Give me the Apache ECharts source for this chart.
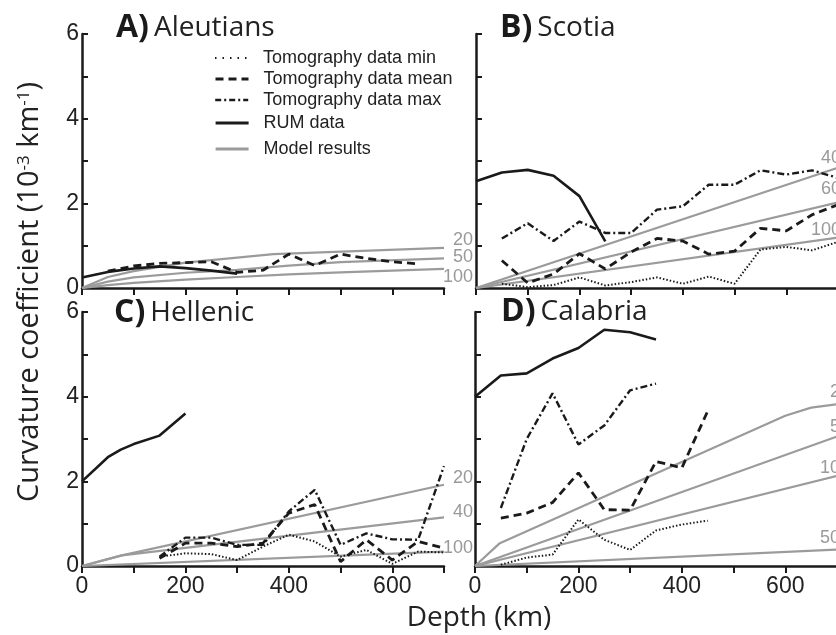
<!DOCTYPE html>
<html>
<head>
<meta charset="utf-8">
<script src="https://cdn.jsdelivr.net/npm/echarts@6/dist/echarts.min.js"></script>
<style>
html, body { margin: 0; padding: 0; background: #fff; }
#chart { width: 836px; height: 635px; }
</style>
</head>
<body>
<div id="chart"></div>
<script>
// depth (km) vs curvature coefficient (10^-3 km^-1)

// A) Aleutians
var aleutRum = [[0, 0.25], [50, 0.38], [100, 0.46], [150, 0.51], [200, 0.47], [250, 0.41], [300, 0.34]];
var aleutMean = [[50, 0.4], [100, 0.52], [150, 0.58], [200, 0.6], [250, 0.62], [300, 0.37], [350, 0.42], [400, 0.8], [450, 0.53], [500, 0.8], [550, 0.7], [600, 0.62], [650, 0.57]];
var aleutModel20 = [[0, 0], [50, 0.26], [100, 0.4], [200, 0.6], [370, 0.8], [700, 0.95]];
var aleutModel50 = [[0, 0], [50, 0.15], [100, 0.25], [200, 0.36], [300, 0.43], [400, 0.53], [500, 0.61], [700, 0.7]];
var aleutModel100 = [[0, 0], [50, 0.07], [100, 0.12], [200, 0.2], [300, 0.26], [400, 0.32], [500, 0.37], [700, 0.45]];

// B) Scotia
var scotiaRum = [[0, 2.52], [50, 2.73], [100, 2.79], [150, 2.65], [200, 2.17], [250, 1.1]];
var scotiaMin = [[50, 0.1], [100, 0.02], [150, 0.07], [200, 0.25], [250, 0.06], [300, 0.14], [350, 0.25], [400, 0.1], [450, 0.27], [500, 0.1], [550, 0.91], [600, 0.97], [650, 0.89], [700, 1.09]];
var scotiaMean = [[50, 0.65], [100, 0.12], [150, 0.33], [200, 0.81], [250, 0.45], [300, 0.85], [350, 1.17], [400, 1.11], [450, 0.8], [500, 0.87], [550, 1.41], [600, 1.35], [650, 1.73], [700, 1.97]];
var scotiaMax = [[50, 1.17], [100, 1.53], [150, 1.11], [200, 1.57], [250, 1.3], [300, 1.3], [350, 1.85], [400, 1.93], [450, 2.44], [500, 2.44], [550, 2.78], [600, 2.68], [650, 2.78], [700, 2.6]];
var scotiaModel40 = [[0, 0], [700, 2.84]];
var scotiaModel60 = [[0, 0], [700, 2.02]];
var scotiaModel100 = [[0, 0], [700, 1.19]];

// C) Hellenic
var hellRum = [[0, 2.0], [50, 2.57], [75, 2.75], [100, 2.88], [150, 3.08], [200, 3.6]];
var hellMin = [[150, 0.22], [200, 0.3], [250, 0.28], [300, 0.14], [350, 0.46], [400, 0.74], [450, 0.58], [500, 0.22], [550, 0.38], [600, 0.05], [650, 0.34], [700, 0.32]];
var hellMean = [[150, 0.18], [200, 0.54], [250, 0.54], [300, 0.46], [350, 0.54], [400, 1.25], [450, 1.45], [500, 0.1], [550, 0.62], [600, 0.14], [650, 0.58], [700, 0.42]];
var hellMax = [[150, 0.22], [200, 0.67], [250, 0.67], [300, 0.5], [350, 0.5], [400, 1.29], [450, 1.8], [500, 0.5], [550, 0.77], [600, 0.63], [650, 0.62], [700, 2.36]];
var hellModel20 = [[0, 0], [77, 0.25], [700, 1.92]];
var hellModel40 = [[0, 0], [77, 0.25], [700, 1.15]];
var hellModel100 = [[0, 0], [700, 0.34]];

// D) Calabria
var calRum = [[0, 4.0], [50, 4.5], [100, 4.55], [150, 4.9], [200, 5.15], [250, 5.58], [300, 5.52], [350, 5.35]];
var calMin = [[50, 0.03], [100, 0.2], [150, 0.27], [200, 1.1], [250, 0.62], [300, 0.38], [350, 0.84], [400, 0.98], [450, 1.07]];
var calMean = [[50, 1.13], [100, 1.25], [150, 1.5], [200, 2.2], [250, 1.33], [300, 1.32], [350, 2.47], [400, 2.32], [450, 3.66]];
var calMax = [[50, 1.37], [100, 3.0], [150, 4.08], [200, 2.87], [250, 3.32], [300, 4.15], [350, 4.31]];
var calModel20 = [[0, 0], [48, 0.54], [600, 3.55], [650, 3.74], [700, 3.82]];
var calModel50 = [[0, 0], [700, 3.06]];
var calModel100 = [[0, 0], [700, 2.13]];
var calModel500 = [[0, 0], [700, 0.39]];

var xTicks = { min: 0, max: 700, step: 100, labelStep: 200 };
var yTicks = { min: 0, max: 6, step: 1, labelStep: 2 };

var legendNames = ['Tomography data min', 'Tomography data mean', 'Tomography data max', 'RUM data', 'Model results'];

var panels = [
    { letter: 'A)', name: 'Aleutians', left: 82, top: 34, xLab: false, yLab: true,
      rum: aleutRum, min: null, mean: aleutMean, max: null,
      model: [aleutModel20, aleutModel50, aleutModel100], modelLabels: ['20', '50', '100'],
      labelOff: [[29, -8], [29, -1], [29, 8]], titleX: 116, titleY: 12 },
    { letter: 'B)', name: 'Scotia', left: 476, top: 34, xLab: false, yLab: false,
      rum: scotiaRum, min: scotiaMin, mean: scotiaMean, max: scotiaMax,
      model: [scotiaModel40, scotiaModel60, scotiaModel100], modelLabels: ['40', '60', '100'],
      labelOff: [[3, -10], [3, -13], [3, -8]], titleX: 500, titleY: 12 },
    { letter: 'C)', name: 'Hellenic', left: 82, top: 312, xLab: true, yLab: true,
      rum: hellRum, min: hellMin, mean: hellMean, max: hellMax,
      model: [hellModel20, hellModel40, hellModel100], modelLabels: ['20', '40', '100'],
      labelOff: [[29, -7], [29, -5], [29, -4]], titleX: 114, titleY: 297 },
    { letter: 'D)', name: 'Calabria', left: 475, top: 312, xLab: true, yLab: false,
      rum: calRum, min: calMin, mean: calMean, max: calMax,
      model: [calModel20, calModel50, calModel100, calModel500], modelLabels: ['20', '50', '100', '500'],
      labelOff: [[13, -12], [13, -9], [13, -8], [13, -11]], titleX: 501, titleY: 296 }
];

var INK = '#1a1a1a';
var GRAY = '#9b9b9b';
var numFont = 'Liberation Sans';
var sansFont = 'Open Sans';

var grids = [], xAxes = [], yAxes = [], series = [], titles = [];

panels.forEach(function (p, i) {
    grids.push({ left: p.left, top: p.top, width: 362, height: 254, outerBoundsMode: 'none' });
    xAxes.push({
        gridIndex: i, type: 'value', min: xTicks.min, max: xTicks.max, interval: xTicks.step,
        axisLine: { show: true, onZero: false, lineStyle: { color: INK, width: 2.5 } },
        axisTick: { show: true, inside: false, length: 7, lineStyle: { color: INK, width: 2 } },
        axisLabel: {
            show: p.xLab, margin: 9, fontSize: 23, color: '#222', fontFamily: numFont,
            formatter: function (v) { return v % xTicks.labelStep === 0 ? String(v) : ''; }
        },
        splitLine: { show: false }
    });
    yAxes.push({
        gridIndex: i, type: 'value', min: yTicks.min, max: yTicks.max, interval: yTicks.step,
        axisLine: { show: true, onZero: false, lineStyle: { color: INK, width: 2.5 } },
        axisTick: { show: true, inside: true, length: 6, lineStyle: { color: INK, width: 2 } },
        axisLabel: {
            show: p.yLab, margin: 3, fontSize: 23, color: '#222', fontFamily: numFont,
            formatter: function (v) { return v % yTicks.labelStep === 0 ? String(v) : ''; }
        },
        splitLine: { show: false }
    });

    p.model.forEach(function (m, j) {
        series.push({
            type: 'line', name: 'Model results', xAxisIndex: i, yAxisIndex: i, data: m,
            symbol: 'none', silent: true, z: 1, color: GRAY,
            lineStyle: { color: GRAY, width: 2.2 },
            endLabel: {
                show: true, formatter: p.modelLabels[j], color: '#999', fontSize: 18,
                fontFamily: numFont, align: 'right', distance: 0, offset: p.labelOff[j]
            }
        });
    });
    if (p.min) series.push({
        type: 'line', name: 'Tomography data min', xAxisIndex: i, yAxisIndex: i, data: p.min,
        symbol: 'none', silent: true, z: 3, color: INK,
        lineStyle: { color: INK, width: 2, type: [1.5, 2] }
    });
    if (p.mean) series.push({
        type: 'line', name: 'Tomography data mean', xAxisIndex: i, yAxisIndex: i, data: p.mean,
        symbol: 'none', silent: true, z: 3, color: INK,
        lineStyle: { color: INK, width: 2.8, type: [8, 5] }
    });
    if (p.max) series.push({
        type: 'line', name: 'Tomography data max', xAxisIndex: i, yAxisIndex: i, data: p.max,
        symbol: 'none', silent: true, z: 3, color: INK,
        lineStyle: { color: INK, width: 2.4, type: [7, 3, 2, 3] }
    });
    series.push({
        type: 'line', name: 'RUM data', xAxisIndex: i, yAxisIndex: i, data: p.rum,
        symbol: 'none', silent: true, z: 4, color: INK,
        lineStyle: { color: INK, width: 2.6 }
    });

    titles.push({
        left: p.titleX, top: p.titleY, padding: 0,
        text: '{b|' + p.letter + '} {n|' + p.name + '}',
        textStyle: {
            fontWeight: 'normal',
            rich: {
                b: { fontFamily: sansFont, fontWeight: 'bold', fontSize: 32, color: '#1a1a1a' },
                n: { fontFamily: sansFont, fontWeight: 'normal', fontSize: 28, color: '#222' }
            }
        }
    });
});

// one legend per row so each row sits where it does in the figure
var legendRows = [58, 79, 100, 123, 149];
var legendLine = [
    { type: [1.5, 6], width: 2 },
    { type: [8, 5], width: 3 },
    { type: [6, 3, 2, 3], width: 2.4 },
    { width: 3.2 },
    { width: 3.2 }
];
var legends = legendNames.map(function (n, k) {
    return {
        data: [n], left: 214, top: legendRows[k] - 9, padding: 0, orient: 'vertical',
        itemWidth: 33, itemHeight: 18, selectedMode: false,
        lineStyle: legendLine[k],
        itemStyle: { opacity: 0, borderWidth: 0 },
        textStyle: { fontFamily: numFont, fontSize: 18, color: '#222', padding: [0, 0, 0, 10] }
    };
});

var chart = echarts.init(document.getElementById('chart'), null, { renderer: 'canvas' });
chart.setOption({
    animation: false,
    backgroundColor: '#fff',
    title: titles,
    legend: legends,
    grid: grids,
    xAxis: xAxes,
    yAxis: yAxes,
    series: series,
    graphic: [
        {
            type: 'text', x: 30, y: 292, rotation: Math.PI / 2,
            style: {
                text: 'Curvature coefficient (10{sup|-3} km{sup|-1})',
                fontFamily: sansFont, fontSize: 29, fill: '#222',
                align: 'center', verticalAlign: 'middle',
                rich: { sup: { fontFamily: sansFont, fontSize: 17, verticalAlign: 'top', fill: '#222' } }
            }
        },
        {
            type: 'text', x: 479, y: 618,
            style: {
                text: 'Depth (km)', fontFamily: sansFont, fontSize: 28, fill: '#222',
                align: 'center', verticalAlign: 'middle'
            }
        }
    ]
});
</script>
</body>
</html>
